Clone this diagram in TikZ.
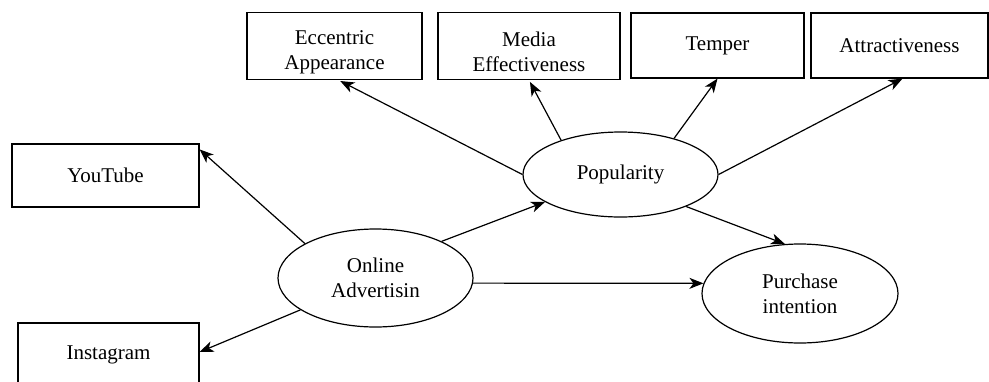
\documentclass[tikz,border=0pt]{standalone}
\usepackage{fontspec}
\setmainfont{Liberation Serif}
\usetikzlibrary{shapes.geometric,arrows.meta}
\tikzset{
  every node/.style={font=\fontsize{21}{25}\selectfont, align=center},
  boxnode/.style={draw, line width=1.2pt, rectangle, inner sep=0pt},
  ellnode/.style={draw, line width=1.2pt, ellipse, inner sep=0pt},
  lbl/.style={inner sep=0pt},
  arr/.style={line width=1.2pt, -{Stealth[length=14pt,width=11pt,inset=4pt]}},
}
\begin{document}
\begin{tikzpicture}[x=1pt,y=-1pt]
\useasboundingbox (0,0) rectangle (989,381);
% top boxes
\node[boxnode, minimum width=175pt, minimum height=67pt] (ecc) at (334.5,46) {};
\node[lbl] (ecct) at ([yshift=-6pt]ecc.center) {Eccentric\\Appearance};
\node[boxnode, minimum width=182pt, minimum height=67pt] (med) at (529,46) {};
\node[lbl] (medt) at ([yshift=-6pt]med.center) {Media\\Effectiveness};
\node[boxnode, minimum width=173pt, minimum height=65pt] (tem) at (717.5,45.5) {Temper};
\node[boxnode, minimum width=177pt, minimum height=65pt] (att) at (899.5,45.5) {Attractiveness};
% left boxes
\node[boxnode, minimum width=187pt, minimum height=63pt] (yt) at (105.5,175.5) {YouTube};
\node[boxnode, minimum width=181pt, minimum height=64pt] (ins) at (108.5,355) {Instagram};
% ellipses
\node[ellnode, minimum width=195pt, minimum height=98pt] (onl) at (375.5,278) {Online\\Advertisin};
\node[ellnode, minimum width=195pt, minimum height=85pt] (pop) at (620.5,174.5) {Popularity};
\node[ellnode, minimum width=196pt, minimum height=99pt] (pur) at (800,293.5) {Purchase\\intention};
% connectors
\draw[arr] (onl.154) -- ([yshift=-6pt]yt.north east);
\draw[arr] (onl.203) -- ([yshift=3pt]ins.east);
\draw[arr] (onl.29) -- (pop.200);
\draw[arr] (onl.-3) -- (pur.174);
\draw[arr, shorten >=2pt] (pop.west) -- ([xshift=4pt]ecc.south);
\draw[arr, shorten >=2pt] (pop.150) -- (med.south);
\draw[arr] (pop.34) -- (tem.south);
\draw[arr] (pop.east) -- ([xshift=3pt]att.south);
\draw[arr] (pop.-26) -- (pur.107);
\end{tikzpicture}
\end{document}
